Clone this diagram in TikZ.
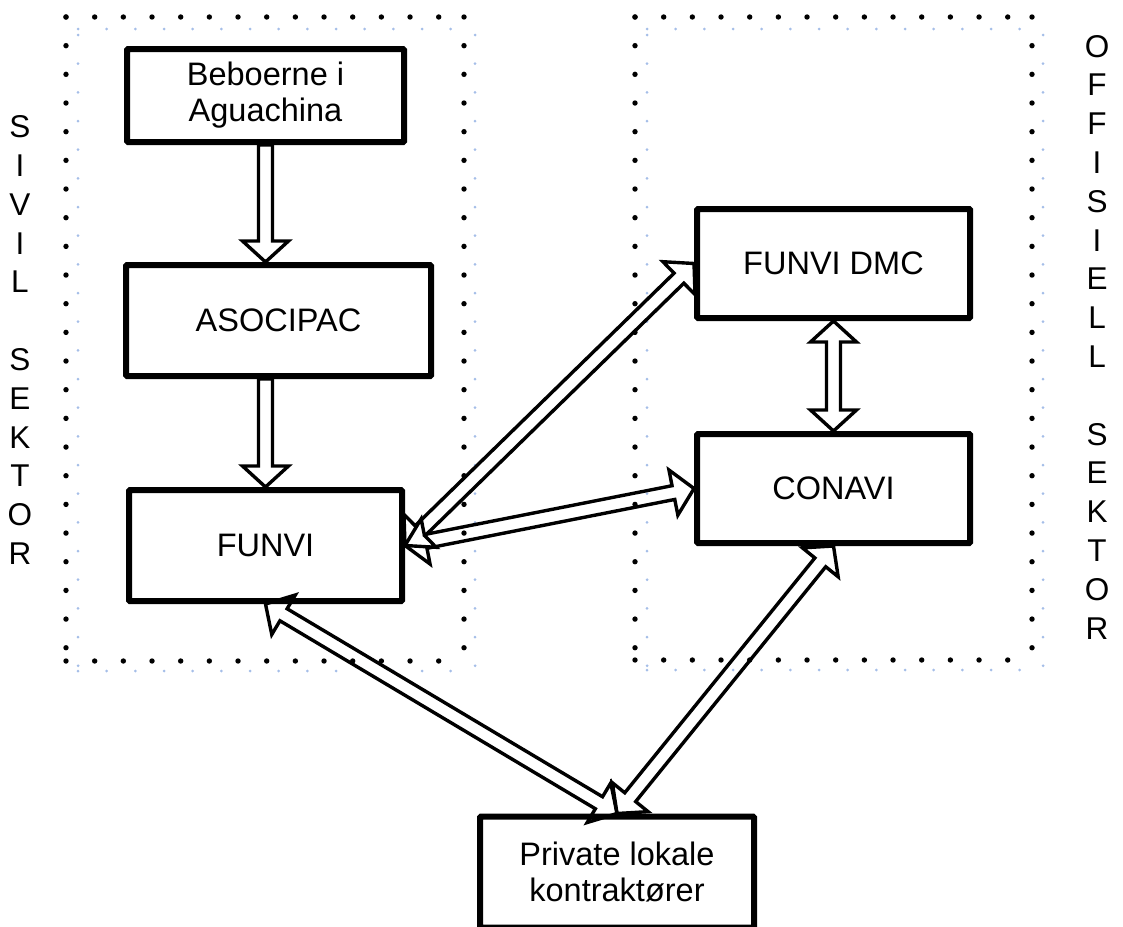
\documentclass[tikz,border=0pt]{standalone}
\usepackage{fontspec}
\setmainfont{Liberation Sans}
\usetikzlibrary{calc}
\definecolor{dotblue}{RGB}{165,190,232}
\newcommand\arrHL{21pt}
\newcommand\arrHW{23pt}
\newcommand\arrSW{7pt}
\newcommand\dblarr[2]{%
  \path ($(#1)!\arrHL!(#2)$) coordinate (p1) ($(#2)!\arrHL!(#1)$) coordinate (p2);
  \draw[arrline] (#1) -- ($(p1)!\arrHW!90:(#2)$) -- ($(p1)!\arrSW!90:(#2)$)
    -- ($(p2)!\arrSW!-90:(#1)$) -- ($(p2)!\arrHW!-90:(#1)$) -- (#2)
    -- ($(p2)!\arrHW!90:(#1)$) -- ($(p2)!\arrSW!90:(#1)$)
    -- ($(p1)!\arrSW!-90:(#2)$) -- ($(p1)!\arrHW!-90:(#2)$) -- cycle;}
\newcommand\sglarr[2]{%
  \path ($(#2)!\arrHL!(#1)$) coordinate (p2);
  \draw[arrline] ($(#1)!\arrSW!90:(#2)$) -- ($(p2)!\arrSW!-90:(#1)$)
    -- ($(p2)!\arrHW!-90:(#1)$) -- (#2) -- ($(p2)!\arrHW!90:(#1)$)
    -- ($(p2)!\arrSW!90:(#1)$) -- ($(#1)!\arrSW!-90:(#2)$) -- cycle;}
\begin{document}
\begin{tikzpicture}[x=1pt,y=-1pt,
  box/.style={draw, line width=6pt, align=center, inner sep=0pt,
    font=\fontsize{32.5}{36}\selectfont, rounded corners=1pt},
  arrline/.style={draw, line width=3.4pt, line join=miter},
  blackdots/.style={line width=5.4pt, line cap=round, dash pattern=on 0pt off 28.67pt},
  bluedots/.style={line width=3pt, line cap=round, dotblue, dash pattern=on 0pt off 28.67pt},
  sidelabel/.style={align=center, inner sep=0pt, font=\fontsize{31.5}{38.8}\selectfont}]
\useasboundingbox (0,0) rectangle (1123,926);
% dotted sector frames
\foreach \xa/\ya/\xb/\yb in {66/17/464/661, 635/17/1032/660}{
  \draw[blackdots] (\xa,\ya) -- (\xb,\ya);
  \draw[blackdots] (\xa,\ya) -- (\xa,\yb);
  \draw[blackdots] (\xb,\ya) -- (\xb,\yb);
  \draw[blackdots] (\xa,\yb) -- (\xb,\yb);
  \draw[bluedots] (\xa+12,\ya+12) -- (\xb+11,\ya+12);
  \draw[bluedots] (\xa+12,\ya+18) -- (\xa+12,\yb+10);
  \draw[bluedots] (\xb+11,\ya+18) -- (\xb+11,\yb+10);
  \draw[bluedots] (\xa+12,\yb+10) -- (\xb+11,\yb+10);
}
% boxes
\node[box, minimum width=277pt, minimum height=93pt] (beb) at (265.5,95.5) {Beboerne i\\Aguachina};
\node[box, minimum width=305pt, minimum height=111pt] (aso) at (278.5,320.5) {ASOCIPAC};
\node[box, minimum width=273pt, minimum height=111pt] (funvi) at (265.5,545.5) {FUNVI};
\node[box, minimum width=273pt, minimum height=109pt] (dmc) at (833.5,263.5) {FUNVI DMC};
\node[box, minimum width=273pt, minimum height=109pt] (conavi) at (833.5,488.5) {CONAVI};
\node[box, minimum width=274pt, minimum height=111pt] (priv) at (617,872) {Private lokale\\kontraktører};
% side labels
\node[sidelabel] (sivil) at (20,340) {S\\I\\V\\I\\L\\~\\S\\E\\K\\T\\O\\R};
\node[sidelabel] (off) at (1097,337) {O\\F\\F\\I\\S\\I\\E\\L\\L\\~\\S\\E\\K\\T\\O\\R};
% arrows
\coordinate (e1) at (beb.south |- aso.north);
\coordinate (s2) at (funvi.north |- aso.south);
\sglarr{beb.south}{e1}
\sglarr{s2}{funvi.north}
\dblarr{dmc.south}{conavi.north}
\dblarr{funvi.east}{dmc.west}
\dblarr{funvi.east}{conavi.west}
\dblarr{funvi.south}{priv.north}
\dblarr{priv.north}{conavi.south}
\end{tikzpicture}
\end{document}
